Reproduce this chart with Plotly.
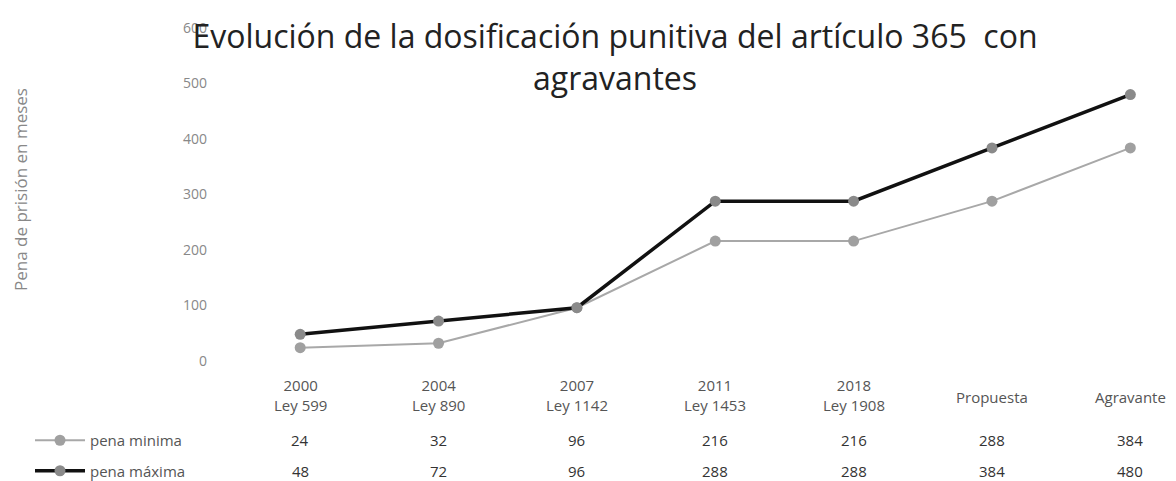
import plotly.graph_objects as go

years = ["2000", "2004", "2007", "2011", "2018", "", ""]
laws = ["Ley 599", "Ley 890", "Ley 1142", "Ley 1453", "Ley 1908", "Propuesta", "Agravante"]
pena_minima = [24, 32, 96, 216, 216, 288, 384]
pena_maxima = [48, 72, 96, 288, 288, 384, 480]
series_names = ["pena minima", "pena máxima"]
y_ticks = [0, 100, 200, 300, 400, 500, 600]

# page offset (default body margin of the html page)
OFF = 8
W, H = 1176 - OFF, 481 - OFF
L, R, T, B = 231 - OFF, 0, 28 - OFF, 120
plot_h = H - T - B
plot_w = W - L - R

def px(page_x):
    return (page_x - OFF - L) / plot_w

def py(page_y):
    return (H - B + OFF - page_y) / plot_h

x = list(range(len(laws)))
fig = go.Figure()
fig.add_trace(go.Scatter(
    x=x, y=pena_minima, mode="lines+markers", name=series_names[0],
    line=dict(color="#a8a8a8", width=2),
    marker=dict(color="#a0a0a0", size=11),
    legendgroup="a",
))
fig.add_trace(go.Scatter(
    x=x, y=pena_maxima, mode="lines+markers", name=series_names[1],
    line=dict(color="#111111", width=3.5),
    marker=dict(color="#8a8a8a", size=11),
    legendgroup="b",
))

ann = []
font_cat = dict(family="Open Sans", size=15, color="#555555")
for i in x:
    if years[i]:
        txt = years[i] + "<br>" + laws[i]
        yc = py(395)
    else:
        txt = laws[i]
        yc = py(397)
    ann.append(dict(x=i, y=yc, xref="x", yref="paper", text=txt, showarrow=False,
                    xanchor="center", yanchor="middle", font=font_cat))
    ann.append(dict(x=i, y=py(440), xref="x", yref="paper", text=str(pena_minima[i]),
                    showarrow=False, xanchor="center", yanchor="middle",
                    font=dict(family="Open Sans", size=15, color="#333333")))
    ann.append(dict(x=i, y=py(471), xref="x", yref="paper", text=str(pena_maxima[i]),
                    showarrow=False, xanchor="center", yanchor="middle",
                    font=dict(family="Open Sans", size=15, color="#333333")))

ann.append(dict(x=px(20), y=py(190), xref="paper", yref="paper",
                text="Pena de prisión en meses", textangle=-90, showarrow=False,
                xanchor="center", yanchor="middle",
                font=dict(family="Open Sans", size=17, color="#888888")))

fig.update_layout(
    width=W, height=H,
    margin=dict(l=L, r=R, t=T, b=B, autoexpand=False),
    paper_bgcolor="#ffffff", plot_bgcolor="#ffffff",
    title=dict(text="Evolución de la dosificación punitiva del artículo 365  con<br>agravantes",
               x=(615 - OFF) / W, xanchor="center", xref="container",
               y=1 - 40 / H, yanchor="top", yref="container",
               font=dict(family="Open Sans", size=32, color="#222222")),
    xaxis=dict(range=[-0.5, 6.33], showticklabels=False, showgrid=False,
               zeroline=False, showline=False, ticks=""),
    yaxis=dict(range=[0, 600], tickvals=y_ticks, showgrid=False, zeroline=False,
               showline=False, ticklabelstandoff=23,
               tickfont=dict(family="Open Sans", size=14, color="#888888")),
    showlegend=True,
    legend=dict(x=px(30), y=py(424), xanchor="left", yanchor="top",
                xref="paper", yref="paper", orientation="v", itemwidth=50,
                tracegroupgap=8, bgcolor="rgba(0,0,0,0)",
                font=dict(family="Open Sans", size=15, color="#555555")),
    annotations=ann,
)

fig.write_html("out.html")
